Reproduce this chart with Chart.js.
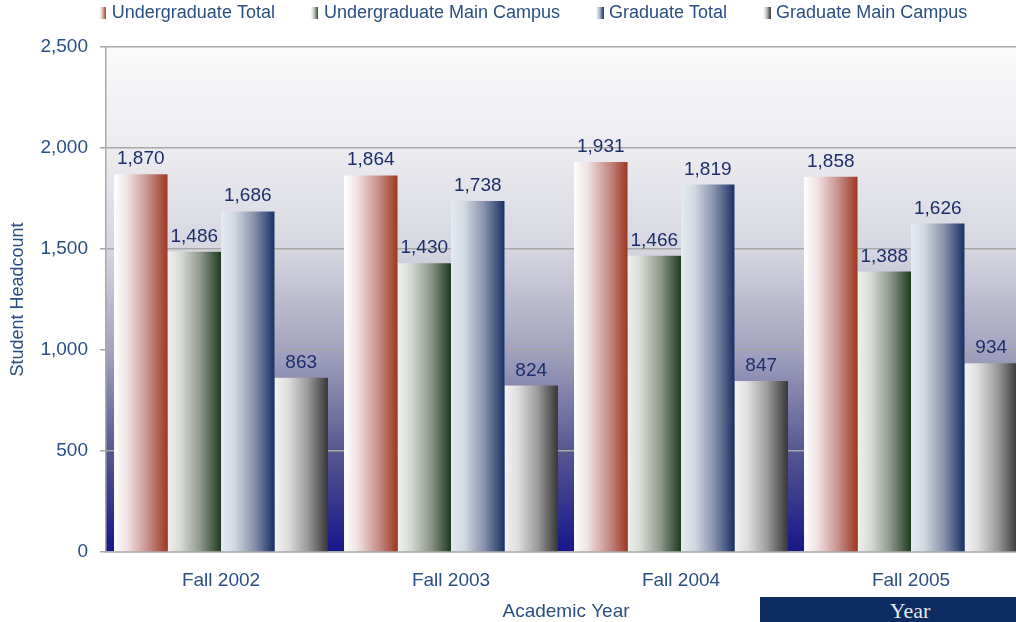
<!DOCTYPE html>
<html>
<head>
<meta charset="utf-8">
<script src="https://cdn.jsdelivr.net/npm/chart.js@4.4.0/dist/chart.umd.min.js"></script>
<style>
  html, body { margin: 0; padding: 0; width: 1016px; height: 622px; overflow: hidden; background: #ffffff; }
  #wrap { position: relative; width: 1016px; height: 622px; overflow: hidden; }
  canvas { position: absolute; left: 0; top: 0; }
  #yearBox { position: absolute; left: 760px; top: 597px; width: 300px; height: 25px; background: #0b2b61;
    color: #e6e9f2; font-family: "Liberation Serif", "DejaVu Serif", serif; font-size: 22px; line-height: 27px; text-align: center; }
</style>
</head>
<body>
<div id="wrap">
  <canvas id="c" width="1026" height="624"></canvas>
  <div id="yearBox">Year</div>
</div>
<script>
const categories = ['Fall 2002', 'Fall 2003', 'Fall 2004', 'Fall 2005'];
const seriesNames = ['Undergraduate Total', 'Undergraduate Main Campus', 'Graduate Total', 'Graduate Main Campus'];
const undergradTotal = [1870, 1864, 1931, 1858];
const undergradMain  = [1486, 1430, 1466, 1388];
const gradTotal      = [1686, 1738, 1819, 1626];
const gradMain       = [863, 824, 847, 934];
const yTicks = [0, 500, 1000, 1500, 2000, 2500];

const seriesStops = [
  ['#ffffff', '#efe2e2', '#c8948e', '#9e3821'],
  ['#eff1ee', '#d6dad4', '#8c978a', '#1e3a1e'],
  ['#e4eaf0', '#d2d9e3', '#8792ab', '#183264'],
  ['#f3f3f3', '#dedede', '#9a9a9a', '#363636']
];
const CAT_PCT = 0.93;
const TEXT_COLOR = '#2b4f82';
const LABEL_COLOR = '#1c2f6b';
const FONT = '"Liberation Sans", Arial, sans-serif';

function addStops(g, stops) {
  g.addColorStop(0, stops[0]);
  g.addColorStop(0.25, stops[1]);
  g.addColorStop(0.62, stops[2]);
  g.addColorStop(1, stops[3]);
  return g;
}

function barGradient(ctx, di) {
  const chart = ctx.chart;
  const xs = chart.scales && chart.scales.x;
  const stops = seriesStops[di];
  if (!xs || !chart.chartArea || ctx.type !== 'data') return stops[3];
  const center = xs.getPixelForValue(ctx.dataIndex);
  const catW = xs.width / categories.length;
  const groupW = catW * CAT_PCT;
  const barW = groupW / seriesNames.length;
  const left = center - groupW / 2 + di * barW;
  return addStops(chart.ctx.createLinearGradient(left, 0, left + barW, 0), stops);
}

function legendMarker(di) {
  const cv = document.createElement('canvas');
  cv.width = 43; cv.height = 12;
  const c = cv.getContext('2d');
  const g = addStops(c.createLinearGradient(36, 0, 43, 0), seriesStops[di]);
  c.fillStyle = g;
  c.fillRect(36, 0, 7, 12);
  return cv;
}
const markers = seriesNames.map((_, i) => legendMarker(i));

const seriesData = [undergradTotal, undergradMain, gradTotal, gradMain];

const bgPlugin = {
  id: 'plotBg',
  beforeDraw(chart) {
    const a = chart.chartArea; if (!a) return;
    const c = chart.ctx;
    const g = c.createLinearGradient(0, a.top, 0, a.bottom);
    g.addColorStop(0, '#fafafb');
    g.addColorStop(0.2, '#ececf0');
    g.addColorStop(0.4, '#d6d6e1');
    g.addColorStop(0.6, '#a3a3bf');
    g.addColorStop(0.8, '#575791');
    g.addColorStop(1, '#16168a');
    c.save(); c.fillStyle = g; c.fillRect(a.left, a.top, a.right - a.left, a.bottom - a.top); c.restore();
  }
};

const labelPlugin = {
  id: 'valueLabels',
  afterDatasetsDraw(chart) {
    const c = chart.ctx;
    c.save();
    c.font = '19px ' + FONT;
    c.fillStyle = LABEL_COLOR;
    c.textAlign = 'center';
    c.textBaseline = 'alphabetic';
    chart.data.datasets.forEach((ds, i) => {
      chart.getDatasetMeta(i).data.forEach((el, j) => {
        c.fillText(ds.data[j].toLocaleString('en-US'), el.x, el.y - 10);
      });
    });
    c.restore();
  }
};

const LEGEND_DX = 4;
const LEGEND_EXTRA_H = 15;
const legendTweak = {
  id: 'legendTweak',
  beforeInit(chart) {
    const lg = chart.legend;
    if (!lg) return;
    const orig = lg.fit;
    lg.fit = function () { orig.call(this); this.height += LEGEND_EXTRA_H; };
  },
  afterLayout(chart) {
    if (chart.legend) { chart.legend.left += LEGEND_DX; chart.legend.right += LEGEND_DX; }
  }
};

new Chart(document.getElementById('c'), {
  type: 'bar',
  data: {
    labels: categories,
    datasets: seriesNames.map((name, i) => ({
      label: name,
      data: seriesData[i],
      backgroundColor: (ctx) => barGradient(ctx, i),
      borderWidth: 0,
      categoryPercentage: CAT_PCT,
      barPercentage: 1.0
    }))
  },
  options: {
    responsive: false,
    animation: false,
    layout: { padding: { left: 0, right: 0, top: 0, bottom: 0 } },
    plugins: {
      tooltip: { enabled: false },
      legend: {
        position: 'top',
        labels: {
          usePointStyle: true,
          pointStyleWidth: 36,
          boxHeight: 12,
          padding: 4,
          color: TEXT_COLOR,
          font: { family: FONT, size: 18 },
          generateLabels(chart) {
            const items = Chart.defaults.plugins.legend.labels.generateLabels(chart);
            items.forEach((it, i) => { it.pointStyle = markers[i]; });
            return items;
          }
        }
      }
    },
    scales: {
      x: {
        afterFit(scale) { scale.height = 72; },
        grid: { display: false, drawTicks: false },
        border: { display: true, color: '#a8a8a8', width: 1.5 },
        ticks: { padding: 17.6, color: TEXT_COLOR, font: { family: FONT, size: 19 } },
        title: { display: true, text: 'Academic Year', color: TEXT_COLOR, font: { family: FONT, size: 19 }, padding: { top: 8, bottom: 0.6 } }
      },
      y: {
        min: 0, max: 2500,
        afterBuildTicks(scale) { scale.ticks = yTicks.map(v => ({ value: v })); },
        afterFit(scale) { scale.width = 106; },
        grid: { color: '#a8a8a8', lineWidth: 1.5, tickLength: 6 },
        border: { display: true, color: '#a8a8a8', width: 1.5 },
        ticks: { padding: 12, color: TEXT_COLOR, font: { family: FONT, size: 19 } },
        title: { display: true, text: 'Student Headcount', color: TEXT_COLOR, font: { family: FONT, size: 18 }, padding: { top: 7, bottom: 8 } }
      }
    }
  },
  plugins: [bgPlugin, labelPlugin, legendTweak]
});
</script>
</body>
</html>
